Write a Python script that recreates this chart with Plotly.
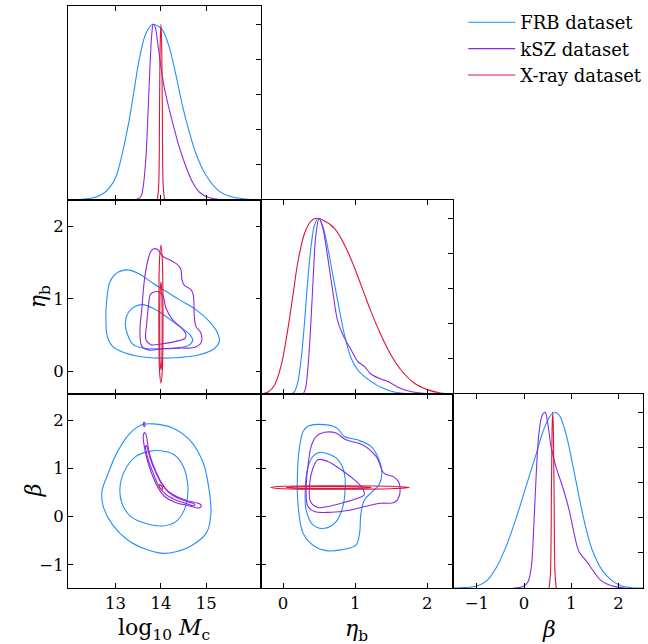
import plotly.graph_objects as go

# ---------------- tick labels ----------------
mc_ticks = [13, 14, 15]
eta_ticks = [0, 1, 2]
beta_ticks = [-1, 0, 1, 2]
diag_ticks = [0.2, 0.4, 0.6, 0.8, 1.0]

# ---------------- 1D marginals: log10 Mc ----------------
frb_mc_x = [11.95, 12.27, 12.49, 12.71, 12.86, 13.01, 13.15, 13.30, 13.41, 13.52, 13.67, 13.82, 13.93,
            14.04, 14.18, 14.33, 14.48, 14.63, 14.77, 14.99, 15.29, 15.58, 15.875, 16.2]
frb_mc_p = [0.0, 0.004, 0.011, 0.034, 0.068, 0.134, 0.267, 0.456, 0.627, 0.797, 0.949, 1.0, 0.99,
            0.965, 0.873, 0.712, 0.532, 0.383, 0.266, 0.142, 0.049, 0.017, 0.006, 0.0]
ksz_mc_x = [13.23, 13.485, 13.56, 13.61, 13.67, 13.72, 13.765, 13.80, 13.83, 13.87, 13.93, 14.0, 14.07,
            14.15, 14.26, 14.40, 14.55, 14.70, 14.85, 15.07, 15.43, 15.72]
ksz_mc_p = [0.0, 0.006, 0.021, 0.078, 0.248, 0.527, 0.797, 0.949, 1.0, 0.987, 0.89, 0.759, 0.645,
            0.551, 0.438, 0.305, 0.191, 0.1, 0.044, 0.013, 0.002, 0.0]
xr_mc_x = [13.92, 13.95, 13.97, 13.985, 14.0, 14.015, 14.03, 14.05, 14.08]
xr_mc_p = [0.0, 0.08, 0.55, 0.9, 1.0, 0.9, 0.55, 0.08, 0.0]

# ---------------- 1D marginals: eta_b ----------------
frb_eta_x = [0.115, 0.161, 0.207, 0.253, 0.299, 0.345, 0.391, 0.437, 0.492, 0.552, 0.621, 0.69, 0.759,
             0.851, 0.943, 1.034, 1.126, 1.218, 1.356, 1.54, 1.724, 1.908]
frb_eta_p = [0.0, 0.015, 0.072, 0.205, 0.413, 0.659, 0.848, 0.962, 1.0, 0.953, 0.83, 0.678, 0.527,
             0.337, 0.205, 0.138, 0.1, 0.072, 0.038, 0.011, 0.002, 0.0]
ksz_eta_x = [0.276, 0.308, 0.345, 0.382, 0.418, 0.455, 0.501, 0.552, 0.621, 0.69, 0.759, 0.851, 0.943,
             1.034, 1.126, 1.218, 1.356, 1.448, 1.586, 1.724, 1.908, 2.092]
ksz_eta_p = [0.0, 0.025, 0.148, 0.375, 0.659, 0.905, 1.0, 0.943, 0.773, 0.583, 0.413, 0.318, 0.252,
             0.186, 0.157, 0.114, 0.085, 0.072, 0.04, 0.019, 0.006, 0.0]
xr_eta_x = [-0.30, -0.207, -0.115, -0.023, 0.069, 0.138, 0.207, 0.299, 0.391, 0.469, 0.552, 0.713,
            0.897, 1.08, 1.218, 1.356, 1.494, 1.632, 1.816, 2.0, 2.18, 2.345]
xr_eta_p = [0.0, 0.011, 0.053, 0.167, 0.375, 0.564, 0.754, 0.915, 0.985, 1.0, 0.99, 0.943,
            0.81, 0.621, 0.47, 0.337, 0.223, 0.138, 0.0625, 0.025, 0.006, 0.0]

# ---------------- 1D marginals: beta ----------------
frb_beta_x = [-1.5, -1.276, -0.997, -0.788, -0.579, -0.37, -0.16, 0.049, 0.258, 0.397, 0.537, 0.642,
              0.746, 0.886, 1.025, 1.165, 1.304, 1.444, 1.653, 1.862, 2.071, 2.35, 2.52]
frb_beta_p = [0.0, 0.002, 0.011, 0.042, 0.121, 0.244, 0.405, 0.585, 0.765, 0.888, 0.973, 1.0,
              0.983, 0.879, 0.708, 0.519, 0.348, 0.216, 0.102, 0.042, 0.011, 0.0, 0.0]
ksz_beta_x = [-0.23, -0.021, 0.084, 0.153, 0.202, 0.258, 0.314, 0.384, 0.446, 0.502, 0.572, 0.676,
              0.816, 0.955, 1.06, 1.165, 1.304, 1.478, 1.618, 1.757, 1.932, 2.141]
ksz_beta_p = [0.0, 0.008, 0.036, 0.121, 0.33, 0.652, 0.879, 0.983, 1.0, 0.936, 0.803, 0.689,
              0.576, 0.443, 0.311, 0.206, 0.159, 0.093, 0.045, 0.023, 0.008, 0.0]
xr_beta_x = [0.53, 0.558, 0.579, 0.593, 0.607, 0.621, 0.635, 0.656, 0.683]
xr_beta_p = [0.0, 0.08, 0.55, 0.9, 1.0, 0.9, 0.55, 0.08, 0.0]

# ---------------- 2D contours: log10 Mc vs eta_b ----------------
frb_mceta_out_x = [12.787, 12.801, 12.875, 13.007, 13.265, 13.522, 13.816, 14.110, 14.404, 14.772, 15.066,
                   15.25, 15.287, 15.176, 14.846, 14.404, 13.963, 13.522, 13.154, 12.934, 12.816]
frb_mceta_out_y = [0.690, 0.966, 1.232, 1.347, 1.398, 1.343, 1.218, 1.103, 0.989, 0.851, 0.690,
                   0.529, 0.414, 0.313, 0.230, 0.193, 0.184, 0.207, 0.267, 0.345, 0.483]
frb_mceta_in_x = [13.213, 13.287, 13.434, 13.596, 13.816, 14.037, 14.257, 14.478, 14.640, 14.699, 14.610,
                  14.331, 13.963, 13.596, 13.375, 13.265]
frb_mceta_in_y = [0.667, 0.818, 0.897, 0.920, 0.874, 0.791, 0.690, 0.589, 0.506, 0.428, 0.359,
                  0.322, 0.313, 0.322, 0.377, 0.506]
ksz_mceta_out_x = [13.831, 13.926, 14.037, 14.221, 14.368, 14.441, 14.463, 14.515, 14.662, 14.713, 14.735,
                   14.772, 14.882, 14.882, 14.735, 14.404, 14.037, 13.743, 13.581, 13.537, 13.581, 13.632,
                   13.706, 13.779]
ksz_mceta_out_y = [1.687, 1.678, 1.586, 1.526, 1.471, 1.402, 1.264, 1.186, 1.126, 1.057, 0.782,
                   0.621, 0.529, 0.391, 0.331, 0.322, 0.313, 0.294, 0.345, 0.552, 0.874, 1.241,
                   1.517, 1.655]
ksz_mceta_in_x = [13.831, 13.963, 14.051, 14.110, 14.257, 14.441, 14.551, 14.537, 14.331, 14.037, 13.779,
                  13.669, 13.684, 13.728, 13.765]
ksz_mceta_in_y = [1.090, 1.094, 1.034, 0.874, 0.713, 0.607, 0.515, 0.460, 0.414, 0.382, 0.368,
                  0.437, 0.644, 0.920, 1.057]
xr_mceta_out_x = [14.0, 14.03, 14.044, 14.044, 14.03, 14.0, 13.97, 13.956, 13.956, 13.97]
xr_mceta_out_y = [1.74, 1.55, 1.1, 0.45, 0.0, -0.16, 0.0, 0.45, 1.1, 1.55]
xr_mceta_in_x = [14.0, 14.018, 14.026, 14.026, 14.018, 14.0, 13.982, 13.974, 13.974, 13.982]
xr_mceta_in_y = [1.23, 1.1, 0.85, 0.4, 0.13, 0.02, 0.13, 0.4, 0.85, 1.1]

# ---------------- 2D contours: log10 Mc vs beta ----------------
frb_mcbeta_out_x = [13.816, 14.257, 14.662, 14.934, 15.051, 15.103, 15.007, 14.699, 14.331, 14.037, 13.669,
                    13.265, 12.934, 12.728, 12.699, 12.824, 13.044, 13.338, 13.596]
frb_mcbeta_out_y = [1.920, 1.836, 1.559, 1.109, 0.624, 0.069, -0.333, -0.589, -0.728, -0.762, -0.679,
                    -0.485, -0.173, 0.208, 0.520, 0.866, 1.351, 1.746, 1.906]
frb_mcbeta_in_x = [14.0, 14.294, 14.493, 14.588, 14.588, 14.515, 14.331, 14.037, 13.706, 13.338, 13.140,
                   13.096, 13.191, 13.449, 13.743]
frb_mcbeta_in_y = [1.365, 1.282, 1.040, 0.693, 0.416, 0.139, -0.104, -0.194, -0.152, 0.0, 0.277,
                   0.589, 0.936, 1.247, 1.351]
ksz_mcbeta_out_x = [13.635, 13.67, 13.74, 13.86, 14.01, 14.15, 14.35, 14.57, 14.87, 14.89, 14.85, 14.55,
                    14.32, 14.08, 13.93, 13.78, 13.67, 13.61]
ksz_mcbeta_out_y = [1.74, 1.70, 1.33, 0.998, 0.707, 0.534, 0.416, 0.333, 0.256, 0.22, 0.18, 0.24,
                    0.29, 0.416, 0.61, 0.935, 1.28, 1.68]
ksz_mcbeta_in_x = [13.67, 13.69, 13.76, 13.875, 14.015, 14.15, 14.33, 14.55, 14.735, 14.75, 14.72, 14.54,
                   14.32, 14.11, 13.96, 13.83, 13.72, 13.66]
ksz_mcbeta_in_y = [1.47, 1.455, 1.213, 0.936, 0.679, 0.52, 0.402, 0.319, 0.263, 0.243, 0.222, 0.277,
                   0.346, 0.457, 0.624, 0.90, 1.178, 1.44]
ksz_mcbeta_isl_x = [13.62, 13.64, 13.645, 13.625]
ksz_mcbeta_isl_y = [1.95, 1.95, 1.87, 1.87]
xr_mcbeta_x = [13.96, 14.0, 14.04, 14.03, 14.0, 13.96]
xr_mcbeta_y = [0.66, 0.645, 0.59, 0.565, 0.57, 0.625]

# ---------------- 2D contours: eta_b vs beta ----------------
frb_etabeta_out_x = [0.345, 0.48, 0.74, 0.85, 1.03, 1.22, 1.33, 1.37, 1.33, 1.24, 1.13, 1.08, 1.06, 1.01,
                     0.80, 0.62, 0.44, 0.28, 0.21, 0.20, 0.23, 0.28]
frb_etabeta_out_y = [1.87, 1.91, 1.84, 1.66, 1.59, 1.455, 1.18, 0.90, 0.66, 0.52, 0.35, 0.07, -0.35, -0.59,
                     -0.69, -0.71, -0.62, -0.35, 0.21, 0.90, 1.455, 1.77]
frb_etabeta_in_x = [0.506, 0.62, 0.76, 0.85, 0.86, 0.83, 0.736, 0.575, 0.414, 0.32, 0.308, 0.336, 0.414]
frb_etabeta_in_y = [1.33, 1.30, 1.18, 0.90, 0.554, 0.21, -0.104, -0.243, -0.173, 0.139, 0.554, 0.97, 1.247]
ksz_etabeta_out_x = [0.46, 0.575, 0.736, 0.874, 1.10, 1.29, 1.40, 1.54, 1.61, 1.61, 1.54, 1.356, 1.13,
                     0.897, 0.667, 0.437, 0.345, 0.32, 0.345, 0.39]
ksz_etabeta_out_y = [1.66, 1.746, 1.73, 1.59, 1.49, 1.247, 0.90, 0.818, 0.693, 0.416, 0.291, 0.277, 0.208,
                     0.125, 0.09, 0.104, 0.208, 0.554, 1.04, 1.455]
ksz_etabeta_in_x = [0.483, 0.62, 0.805, 0.989, 1.10, 1.126, 1.034, 0.805, 0.62, 0.483, 0.38, 0.37, 0.414]
ksz_etabeta_in_y = [1.178, 1.143, 0.97, 0.762, 0.589, 0.45, 0.381, 0.277, 0.208, 0.187, 0.312, 0.693, 1.0]
xr_etabeta_out_x = [-0.17, 0.0, 0.8, 1.5, 1.75, 1.5, 0.8, 0.0]
xr_etabeta_out_y = [0.603, 0.628, 0.638, 0.628, 0.603, 0.578, 0.568, 0.578]
xr_etabeta_in_x = [0.046, 0.15, 0.63, 1.1, 1.22, 1.1, 0.63, 0.15]
xr_etabeta_in_y = [0.603, 0.617, 0.622, 0.617, 0.603, 0.589, 0.584, 0.589]

# ---------------- styling ----------------
C_FRB = "#1E90FF"
C_KSZ = "#8A2BE2"
C_XR = "#DC143C"
FONT = "DejaVu Serif, serif"
LW = 1.1

mc_range = [11.95, 16.2]
eta_range = [-0.31, 2.36]
beta_range_y = [-1.48, 2.54]
beta_range_x = [-1.5, 2.52]
diag_range = [0, 1.104]

fig = go.Figure()


def closed(v):
    return list(v) + [v[0]]


def add(x, y, color, xa, ya, loop=False, name=None):
    if loop:
        x, y = closed(x), closed(y)
    fig.add_trace(go.Scatter(
        x=x, y=y, mode="lines",
        line=dict(color=color, width=LW, shape="spline", smoothing=1.0),
        xaxis=xa, yaxis=ya, name=name, showlegend=name is not None,
        hoverinfo="skip"))


# legend entries first (in panel A)
add(frb_mc_x, frb_mc_p, C_FRB, "x", "y", name="FRB dataset")
add(ksz_mc_x, ksz_mc_p, C_KSZ, "x", "y", name="kSZ dataset")
add(xr_mc_x, xr_mc_p, C_XR, "x", "y", name="X-ray dataset")

# panel C (eta marginal)
add(xr_eta_x, xr_eta_p, C_XR, "x3", "y3")
add(frb_eta_x, frb_eta_p, C_FRB, "x3", "y3")
add(ksz_eta_x, ksz_eta_p, C_KSZ, "x3", "y3")

# panel F (beta marginal)
add(frb_beta_x, frb_beta_p, C_FRB, "x6", "y6")
add(ksz_beta_x, ksz_beta_p, C_KSZ, "x6", "y6")
add(xr_beta_x, xr_beta_p, C_XR, "x6", "y6")

# panel B (Mc vs eta)
add(frb_mceta_out_x, frb_mceta_out_y, C_FRB, "x2", "y2", loop=True)
add(frb_mceta_in_x, frb_mceta_in_y, C_FRB, "x2", "y2", loop=True)
add(ksz_mceta_out_x, ksz_mceta_out_y, C_KSZ, "x2", "y2", loop=True)
add(ksz_mceta_in_x, ksz_mceta_in_y, C_KSZ, "x2", "y2", loop=True)
add(xr_mceta_out_x, xr_mceta_out_y, C_XR, "x2", "y2", loop=True)
add(xr_mceta_in_x, xr_mceta_in_y, C_XR, "x2", "y2", loop=True)

# panel D (Mc vs beta)
add(frb_mcbeta_out_x, frb_mcbeta_out_y, C_FRB, "x4", "y4", loop=True)
add(frb_mcbeta_in_x, frb_mcbeta_in_y, C_FRB, "x4", "y4", loop=True)
add(ksz_mcbeta_out_x, ksz_mcbeta_out_y, C_KSZ, "x4", "y4", loop=True)
add(ksz_mcbeta_in_x, ksz_mcbeta_in_y, C_KSZ, "x4", "y4", loop=True)
add(ksz_mcbeta_isl_x, ksz_mcbeta_isl_y, C_KSZ, "x4", "y4", loop=True)
add(xr_mcbeta_x, xr_mcbeta_y, C_XR, "x4", "y4", loop=True)

# panel E (eta vs beta)
add(frb_etabeta_out_x, frb_etabeta_out_y, C_FRB, "x5", "y5", loop=True)
add(frb_etabeta_in_x, frb_etabeta_in_y, C_FRB, "x5", "y5", loop=True)
add(ksz_etabeta_out_x, ksz_etabeta_out_y, C_KSZ, "x5", "y5", loop=True)
add(ksz_etabeta_in_x, ksz_etabeta_in_y, C_KSZ, "x5", "y5", loop=True)
add(xr_etabeta_out_x, xr_etabeta_out_y, C_XR, "x5", "y5", loop=True)
add(xr_etabeta_in_x, xr_etabeta_in_y, C_XR, "x5", "y5", loop=True)

W, H = 648, 644
ML, MR, MT, MB = 68, 1, 6, 56
pw = W - ML - MR
ph = H - MT - MB
c1 = 194 / pw
c2 = 388 / pw
col = [[0, c1], [c1, c2], [c2, 1]]
row = [[2 / 3, 1], [1 / 3, 2 / 3], [0, 1 / 3]]

base = dict(showline=True, linecolor="black", linewidth=1, ticks="inside", ticklen=5,
            tickwidth=1, tickcolor="black", showgrid=False, zeroline=False,
            tickfont=dict(family=FONT, size=16.5, color="black"))
title_font = dict(family=FONT, size=22, color="black")


def xax(dom, anchor, rng, vals, labels):
    return dict(base, domain=dom, anchor=anchor, range=rng, tickvals=vals,
                showticklabels=labels, mirror="ticks")


def yax(dom, anchor, rng, vals, labels):
    return dict(base, domain=dom, anchor=anchor, range=rng, tickvals=vals,
                showticklabels=labels, mirror="ticks")


def ydiag(dom, anchor):
    return dict(base, domain=dom, anchor=anchor, range=diag_range, tickvals=diag_ticks,
                showticklabels=False, side="right", mirror=True)


def px_x(px):
    return (px - ML) / pw


def px_y(py):
    return (H - MB - py) / ph


titles = [
    dict(text="log<sub>10</sub> <i>M</i><sub>c</sub>", x=px_x(165), y=px_y(629), textangle=0),
    dict(text="<i>η</i><sub>b</sub>", x=px_x(359), y=px_y(630), textangle=0),
    dict(text="<i>β</i>", x=px_x(552), y=px_y(629), textangle=0),
    dict(text="<i>η</i><sub>b</sub>", x=px_x(39), y=px_y(297), textangle=-90),
    dict(text="<i>β</i>", x=px_x(34), y=px_y(490), textangle=-90),
]
annotations = [dict(t, xref="paper", yref="paper", showarrow=False, xanchor="center",
                    yanchor="middle", font=title_font) for t in titles]

fig.update_layout(
    width=W, height=H,
    margin=dict(l=ML, r=MR, t=MT, b=MB),
    paper_bgcolor="white", plot_bgcolor="white",
    font=dict(family=FONT, color="black"),
    xaxis=xax(col[0], "y", mc_range, mc_ticks, False),
    yaxis=ydiag(row[0], "x"),
    xaxis2=xax(col[0], "y2", mc_range, mc_ticks, False),
    yaxis2=yax(row[1], "x2", eta_range, eta_ticks, True),
    xaxis3=xax(col[1], "y3", eta_range, eta_ticks, False),
    yaxis3=ydiag(row[1], "x3"),
    xaxis4=xax(col[0], "y4", mc_range, mc_ticks, True),
    yaxis4=yax(row[2], "x4", beta_range_y, beta_ticks, True),
    xaxis5=xax(col[1], "y5", eta_range, eta_ticks, True),
    yaxis5=yax(row[2], "x5", beta_range_y, beta_ticks, False),
    xaxis6=xax(col[2], "y6", beta_range_x, beta_ticks, True),
    yaxis6=ydiag(row[2], "x6"),
    annotations=annotations,
    showlegend=True,
    legend=dict(x=px_x(466), y=px_y(4), xanchor="left", yanchor="top", itemwidth=47,
                font=dict(family=FONT, size=18, color="black"),
                bgcolor="rgba(0,0,0,0)", borderwidth=0),
)

fig.write_html("out.html", config={"displayModeBar": False},
               post_script="document.body.style.margin='0px';")
